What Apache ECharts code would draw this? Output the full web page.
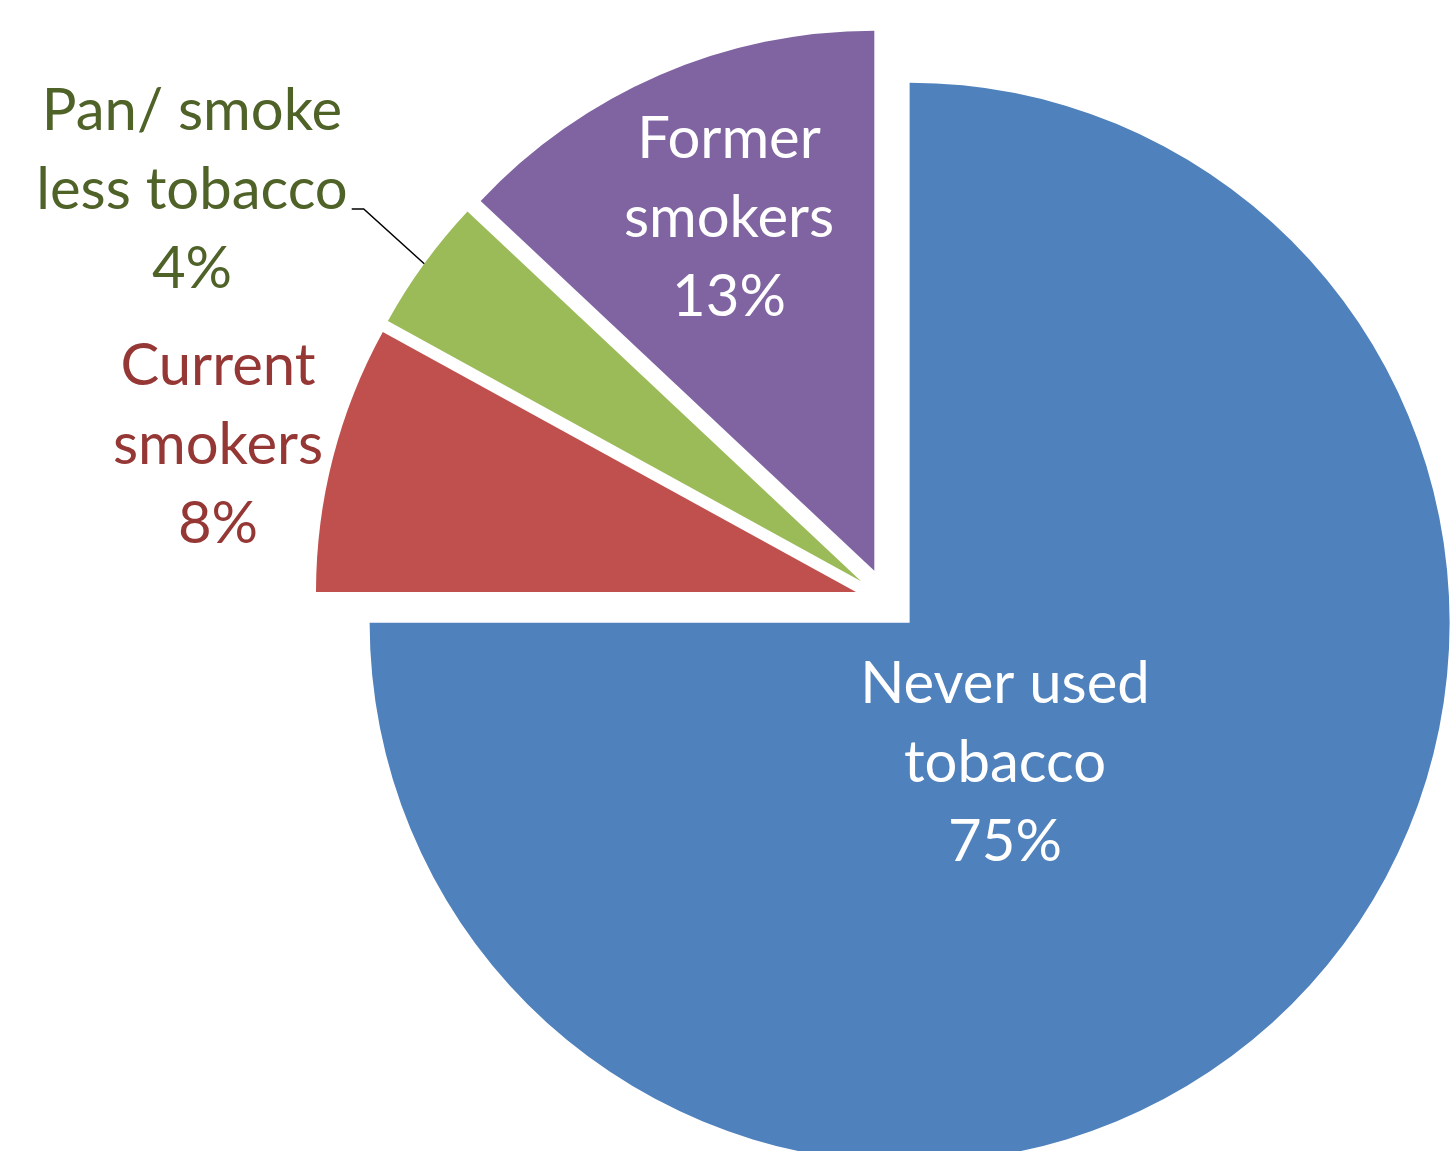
<!DOCTYPE html>
<html>
<head>
<meta charset="utf-8">
<script src="https://cdn.jsdelivr.net/npm/echarts@6/dist/echarts.min.js"></script>
<style>
html,body{margin:0;padding:0;background:#fff;}
#chart{width:1451px;height:1151px;}
</style>
</head>
<body>
<div id="chart"></div>
<script>
const categories = ['Never used\ntobacco', 'Current\nsmokers', 'Pan/ smoke\nless tobacco', 'Former\nsmokers'];
const values = [75, 8, 4, 13];
const sliceColors = ['#4F81BD', '#C0504D', '#9BBB59', '#8064A2'];
const labelColors = ['#FFFFFF', '#953735', '#4F6228', '#FFFFFF'];
const labelCenters = [[1005, 763], [218, 445], [192, 190], [729, 218]];
const showLeader = [false, false, true, false];

const PIE_CENTER = [887, 600];
const PIE_RADIUS = 540;
const EXPLODE = 32;

const chart = echarts.init(document.getElementById('chart'), null, {renderer: 'canvas'});

// Visible exploded slices
const sliceData = categories.map((c, i) => ({
  name: c,
  value: values[i],
  selected: true,
  itemStyle: {color: sliceColors[i]}
}));

// Transparent twin series carrying the labels (radius reaches the exploded rim)
const labelData = categories.map((c, i) => ({
  name: c,
  value: values[i],
  itemStyle: {color: 'rgba(0,0,0,0)'},
  label: {color: labelColors[i], position: 'outside'},
  labelLine: {show: showLeader[i]}
}));

chart.setOption({
  animation: false,
  series: [{
    type: 'pie',
    center: PIE_CENTER,
    radius: PIE_RADIUS,
    startAngle: 90,
    clockwise: true,
    selectedMode: 'multiple',
    selectedOffset: EXPLODE,
    silent: true,
    emphasis: {disabled: true},
    itemStyle: {borderWidth: 0},
    label: {show: false},
    labelLine: {show: false},
    data: sliceData
  }, {
    type: 'pie',
    center: PIE_CENTER,
    radius: PIE_RADIUS + EXPLODE,
    startAngle: 90,
    clockwise: true,
    selectedMode: false,
    avoidLabelOverlap: false,
    silent: true,
    z: 3,
    emphasis: {disabled: true},
    itemStyle: {borderWidth: 0},
    label: {
      show: true,
      fontFamily: 'Lato',
      fontSize: 58,
      lineHeight: 79,
      align: 'center',
      formatter: p => p.name + '\n' + p.value + '%'
    },
    labelLine: {
      length: 20,
      length2: 10,
      lineStyle: {color: '#000', width: 1.5}
    },
    labelLayout: p => {
      const i = p.dataIndex;
      const c = labelCenters[i];
      const out = {x: c[0], y: c[1], align: 'center', verticalAlign: 'middle'};
      if (showLeader[i] && p.labelLinePoints) {
        const w = p.labelRect.width, h = p.labelRect.height;
        const rx = c[0] + w / 2 + 4;
        const ry = c[1] + h * 0.08;
        out.labelLinePoints = [p.labelLinePoints[0], [rx + 12, ry], [rx, ry]];
      }
      return out;
    },
    data: labelData
  }]
});
</script>
</body>
</html>
